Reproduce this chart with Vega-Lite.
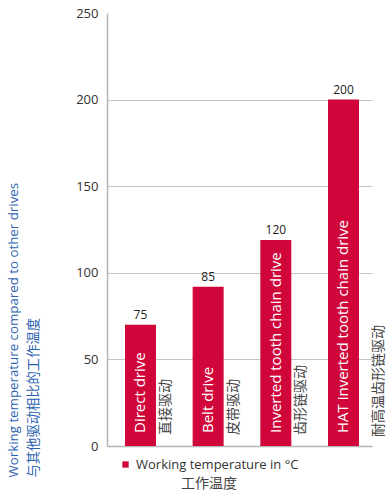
{
  "$schema": "https://vega.github.io/schema/vega-lite/v6.json",
  "autosize": {"type": "none"},
  "width": 265,
  "height": 433,
  "padding": {"left": 107, "top": 13, "right": 19, "bottom": 49},
  "background": "white",
  "config": {
    "view": {"stroke": null},
    "font": "Open Sans, Noto Sans CJK SC, sans-serif"
  },
  "data": {
    "values": [
      {"drive": "Direct drive", "cn": "直接驱动", "temp": 70, "label": "75"},
      {"drive": "Belt drive", "cn": "皮带驱动", "temp": 92, "label": "85"},
      {"drive": "Inverted tooth chain drive", "cn": "齿形链驱动", "temp": 119, "label": "120"},
      {"drive": "HAT inverted tooth chain drive", "cn": "耐高温齿形链驱动", "temp": 200, "label": "200"}
    ]
  },
  "encoding": {
    "x": {
      "field": "drive",
      "type": "nominal",
      "sort": null,
      "scale": {"paddingInner": 0.542, "paddingOuter": 0.229, "align": 0.58},
      "axis": {"labels": false, "ticks": false, "title": null, "grid": false, "domainColor": "#b5b5b5", "domainWidth": 1.5}
    }
  },
  "layer": [
    {
      "mark": {"type": "bar", "color": "#d0063a"},
      "encoding": {
        "y": {
          "field": "temp",
          "type": "quantitative",
          "scale": {"domain": [0, 250], "nice": false},
          "axis": {
            "values": [0, 50, 100, 150, 200, 250],
            "title": ["Working temperature compared to other drives", "与其他驱动相比的工作温度"],
            "titleAngle": 270,
            "titleAlign": "left",
            "titleBaseline": "top",
            "titleX": -101,
            "titleY": 464,
            "titleFontSize": 13.3,
            "titleLineHeight": 20,
            "titleFontWeight": "normal",
            "titleColor": "#2b62b0",
            "ticks": false,
            "tickSize": 0,
            "labelPadding": 9,
            "labelFontSize": 13,
            "labelColor": "#333333",
            "domainColor": "#b5b5b5",
            "domainWidth": 1.5,
            "grid": true,
            "gridColor": {"condition": {"test": "datum.value == 250", "value": "transparent"}, "value": "#c4c4c4"},
            "gridWidth": 1
          }
        },
        "color": {
          "datum": "Working temperature in °C",
          "scale": {"range": ["#d0063a"]},
          "legend": {
            "orient": "none",
            "legendX": 12,
            "legendY": 445,
            "title": "工作温度",
            "titleOrient": "bottom",
            "titleAnchor": "middle",
            "titleFontSize": 14,
            "titleFontWeight": "normal",
            "titleColor": "#444444",
            "symbolType": "square",
            "symbolSize": 40,
            "symbolStrokeWidth": 0,
            "labelFontSize": 13,
            "labelColor": "#333333",
            "labelLimit": 300
          }
        }
      }
    },
    {
      "mark": {"type": "text", "baseline": "bottom", "dy": -3, "fontSize": 12, "color": "#222222"},
      "encoding": {
        "y": {"field": "temp", "type": "quantitative"},
        "text": {"field": "label"}
      }
    },
    {
      "mark": {"type": "text", "angle": 270, "align": "left", "baseline": "middle", "dx": 13, "fontSize": 15, "color": "white"},
      "encoding": {
        "y": {"datum": 0},
        "text": {"field": "drive"}
      }
    },
    {
      "transform": [{"filter": "datum.drive != 'HAT inverted tooth chain drive'"}],
      "mark": {"type": "text", "angle": 270, "align": "left", "baseline": "middle", "dx": 11, "dy": 25.5, "fontSize": 14, "color": "#444444"},
      "encoding": {
        "y": {"datum": 0},
        "text": {"field": "cn"}
      }
    },
    {
      "transform": [{"filter": "datum.drive == 'HAT inverted tooth chain drive'"}],
      "mark": {"type": "text", "angle": 270, "align": "left", "baseline": "middle", "dx": 9, "dy": 35.5, "fontSize": 14, "color": "#444444"},
      "encoding": {
        "y": {"datum": 0},
        "text": {"field": "cn"}
      }
    }
  ]
}
